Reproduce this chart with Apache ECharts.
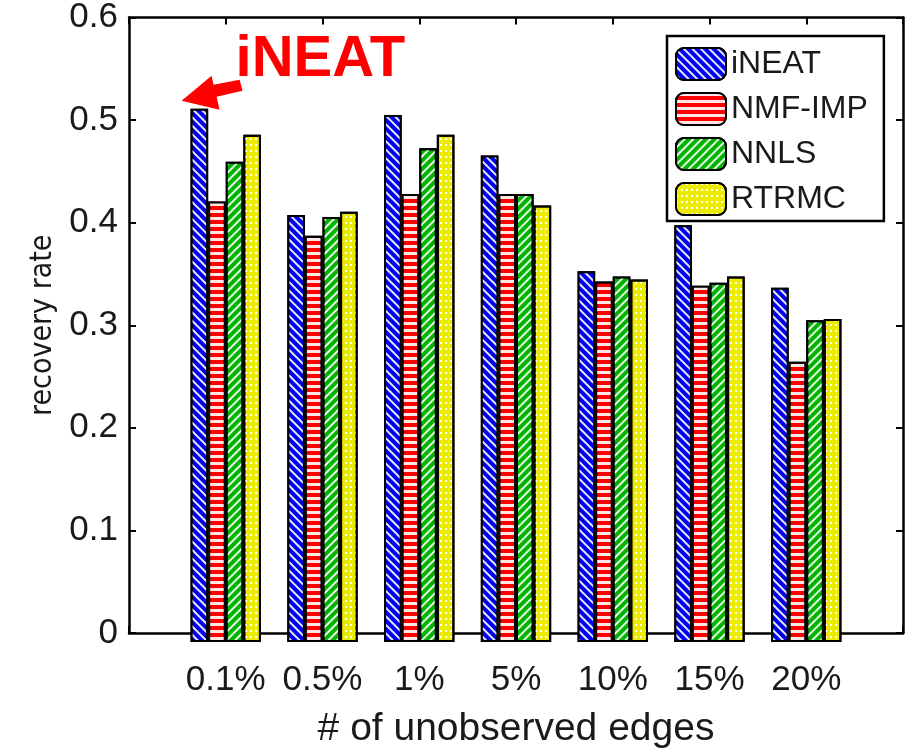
<!DOCTYPE html>
<html>
<head>
<meta charset="utf-8">
<script src="https://cdn.jsdelivr.net/npm/echarts@6/dist/echarts.min.js"></script>
<style>
  html, body { margin: 0; padding: 0; background: #fff; }
  #chart { width: 912px; height: 754px; }
</style>
</head>
<body>
<div id="chart"></div>
<script>
// Recovery rate per method and share of unobserved edges
const categories = ['0.1%', '0.5%', '1%', '5%', '10%', '15%', '20%'];
const seriesNames = ['iNEAT', 'NMF-IMP', 'NNLS', 'RTRMC'];
const ineat  = [0.512, 0.410, 0.506, 0.467, 0.356, 0.400, 0.340];
const nmfImp = [0.423, 0.390, 0.430, 0.430, 0.346, 0.342, 0.269];
const nnls   = [0.461, 0.408, 0.474, 0.430, 0.351, 0.345, 0.309];
const rtrmc  = [0.487, 0.413, 0.487, 0.419, 0.348, 0.351, 0.310];
const yMin = 0, yMax = 0.6, yStep = 0.1;
const calloutLabel = 'iNEAT';

const W = 912, H = 754;
const frame = { left: 129, right: 9, top: 17, bottom: 112 };
const plotW = W - frame.left - frame.right;
const slot = plotW / (categories.length + 1);        // one empty slot split across both ends
const barW = slot * (4 / 5.5) / 4;

const FONT = 'Liberation Sans, Arial, sans-serif';
const NARROW = '"Liberation Sans Narrow", "DejaVu Sans Condensed", "Liberation Sans", sans-serif';
const ink = '#1a1a1a';

const styles = [
  { color: '#0000f2', decal: { symbol: 'rect', symbolSize: 1, color: 'rgba(255,255,255,0.9)',
      dashArrayX: [1, 0], dashArrayY: [2, 4], rotation: Math.PI / 4 } },
  { color: '#ff0000', decal: { symbol: 'rect', symbolSize: 1, color: 'rgba(255,255,255,0.9)',
      dashArrayX: [1, 0], dashArrayY: [3, 4], rotation: 0 } },
  { color: '#00b400', decal: { symbol: 'rect', symbolSize: 1, color: 'rgba(255,255,255,0.9)',
      dashArrayX: [1, 0], dashArrayY: [2, 4], rotation: -Math.PI / 4 } },
  { color: '#ecec00', decal: { symbol: 'rect', symbolSize: 1, color: 'rgba(255,255,255,0.95)',
      dashArrayX: [2, 3], dashArrayY: [2, 4], rotation: 0 } }
];
const values = [ineat, nmfImp, nnls, rtrmc];

const chart = echarts.init(document.getElementById('chart'), null, { renderer: 'canvas' });

const series = seriesNames.map((name, i) => ({
  name,
  type: 'bar',
  xAxisIndex: 2,
  yAxisIndex: 2,
  data: values[i],
  barWidth: barW,
  barGap: '0%',
  itemStyle: {
    color: styles[i].color,
    borderColor: '#000',
    borderWidth: 2,
    decal: styles[i].decal
  },
  emphasis: { disabled: true }
}));

const frameLine = { show: true, onZero: false, lineStyle: { color: '#000', width: 2.5 } };
const frameTick = { show: true, inside: true, length: 7, lineStyle: { color: '#000', width: 2 } };

const option = {
  animation: false,
  backgroundColor: '#fff',
  grid: [
    { left: frame.left, right: frame.right, top: frame.top, bottom: frame.bottom },
    { left: frame.left + slot / 2, right: frame.right + slot / 2, top: frame.top, bottom: frame.bottom }
  ],
  legend: {
    orient: 'vertical',
    left: 667,
    top: 36,
    padding: [11, 16, 5, 8],
    itemWidth: 50,
    itemHeight: 32,
    itemGap: 11,
    borderColor: '#000',
    borderWidth: 2.5,
    backgroundColor: '#fff',
    data: seriesNames,
    textStyle: { fontFamily: FONT, fontSize: 32, color: ink },
    itemStyle: { borderColor: '#000', borderWidth: 2 },
    selectedMode: false
  },
  xAxis: [
    {
      gridIndex: 0, type: 'value', position: 'bottom',
      min: 0, max: categories.length + 1, interval: 1,
      axisLine: frameLine, axisTick: frameTick,
      splitLine: { show: false },
      axisLabel: {
        fontFamily: FONT, fontSize: 35, color: ink, margin: 30,
        formatter: v => categories[v - 1] || ''
      },
      name: '# of unobserved edges',
      nameLocation: 'middle',
      nameGap: 77,
      nameTextStyle: { fontFamily: FONT, fontSize: 39, color: ink }
    },
    {
      gridIndex: 0, type: 'value', position: 'top',
      min: 0, max: categories.length + 1, interval: 1,
      axisLine: frameLine, axisTick: frameTick,
      splitLine: { show: false },
      axisLabel: { show: false }
    },
    {
      gridIndex: 1, type: 'category', data: categories,
      axisLine: { show: false }, axisTick: { show: false },
      axisLabel: { show: false }, splitLine: { show: false }
    }
  ],
  yAxis: [
    {
      gridIndex: 0, type: 'value', position: 'left',
      min: yMin, max: yMax, interval: yStep,
      axisLine: frameLine, axisTick: frameTick,
      splitLine: { show: false },
      axisLabel: {
        fontFamily: FONT, fontSize: 35, color: ink, margin: 11,
        formatter: v => (Math.round(v * 10) / 10).toString()
      },
      name: 'recovery rate',
      nameLocation: 'middle',
      nameGap: 70,
      nameRotate: 90,
      nameTextStyle: { fontFamily: NARROW, fontSize: 30, color: ink }
    },
    {
      gridIndex: 0, type: 'value', position: 'right',
      min: yMin, max: yMax, interval: yStep,
      axisLine: frameLine, axisTick: frameTick,
      splitLine: { show: false },
      axisLabel: { show: false }
    },
    {
      gridIndex: 1, type: 'value', min: yMin, max: yMax, interval: yStep,
      axisLine: { show: false }, axisTick: { show: false },
      axisLabel: { show: false }, splitLine: { show: false }
    }
  ],
  series
};

chart.setOption(option);

// Callout pointing at the first iNEAT bar
const firstTop = chart.convertToPixel({ xAxisIndex: 2, yAxisIndex: 2 }, [0, ineat[0]]);
const barLeft = firstTop[0] - 2 * barW;
const tip = [barLeft - 9, firstTop[1] - 8];
chart.setOption({
  graphic: [
    {
      type: 'polygon',
      x: tip[0], y: tip[1],
      shape: {
        points: [[0, 0], [30, -25], [32, -16], [58, -21], [61, -10], [35, -4], [38, 9]]
      },
      style: { fill: '#ff0000' },
      z: 100
    },
    {
      type: 'text',
      x: tip[0] + 54, y: tip[1] - 41,
      style: {
        text: calloutLabel,
        fill: '#ff0000',
        font: 'bold 58px ' + FONT,
        textAlign: 'left',
        textVerticalAlign: 'middle'
      },
      z: 100
    }
  ]
});
</script>
</body>
</html>
